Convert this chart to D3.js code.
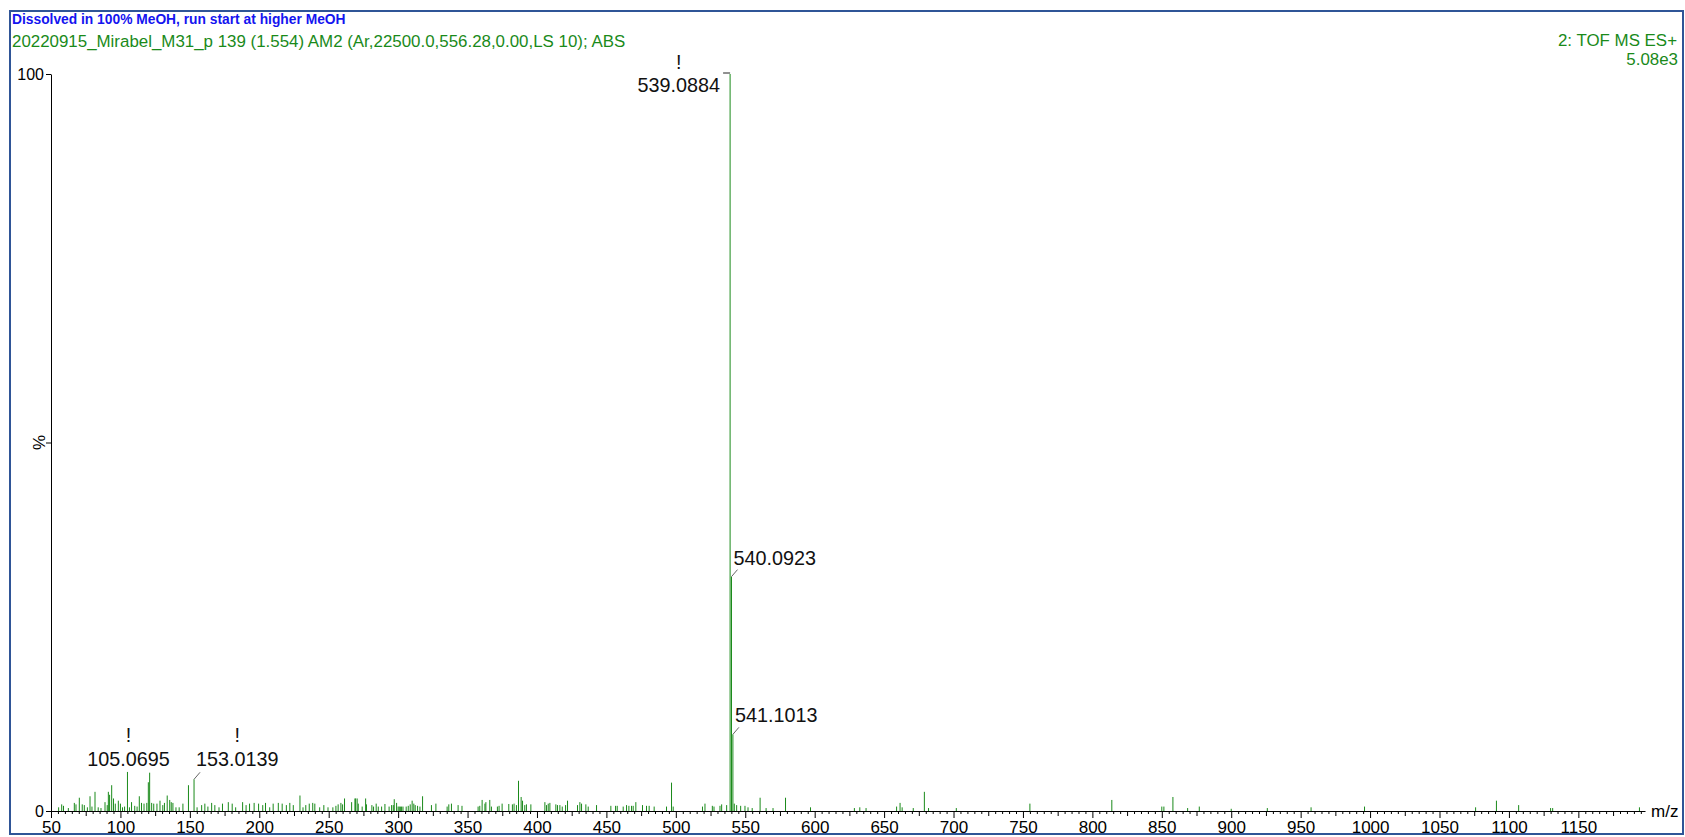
<!DOCTYPE html>
<html>
<head>
<meta charset="utf-8">
<script src="https://cdn.jsdelivr.net/npm/d3@7"></script>
<style>
body{margin:0;background:#fff}
text{font-family:"Liberation Sans",Arial,sans-serif}
</style>
</head>
<body>
<svg id="chart" width="1685" height="837"></svg>
<script>
// header texts
var sampleNote = "Dissolved in 100% MeOH, run start at higher MeOH"
var scanInfo = "20220915_Mirabel_M31_p 139 (1.554) AM2 (Ar,22500.0,556.28,0.00,LS 10); ABS"
var functionInfo = "2: TOF MS ES+"
var intensityInfo = "5.08e3"

// axes
var xDomain = [50, 1198]
var xTickLabels = [50,100,150,200,250,300,350,400,450,500,550,600,650,700,750,800,850,900,950,1000,1050,1100,1150]
var yTickValues = [0, 50, 100]
var xTitle = "m/z"
var yTitle = "%"

// labelled peaks [m/z, %]
var mainPeaks = [[539.0884,100],[540.0923,31.8],[541.1013,10.4]]
var lowPeaks = [[105.0695,5.3],[153.0139,4.3]]
var flaggedPeaks = [539.0884, 105.0695, 153.0139]

// remaining centroid sticks [m/z, %]
var noisePeaks = [
 [55.5,0.5],[57.7,0.9],[59.0,0.7],[62.5,0.4],[66.8,1.1],[68.0,0.9],[70.4,1.8],[72.5,0.9],[74.0,0.8],[76.2,0.5],
 [78.1,2.0],[79.5,0.6],[81.7,2.6],[84.0,0.5],[86.0,0.4],[88.9,1.2],[90.5,0.8],[91.3,2.6],[92.2,2.2],[93.7,3.5],
 [95.0,1.7],[96.3,1.0],[98.5,1.4],[100.0,1.0],[101.5,0.5],[103.0,0.6],[106.5,0.5],[108.0,1.2],[110.3,0.7],[112.0,0.6],
 [113.6,2.0],[115.2,1.1],[117.0,1.0],[119.0,1.1],[120.1,3.9],[121.05,5.2],[122.5,1.1],[124.0,1.0],[126.3,1.0],[128.5,1.4],
 [130.5,0.8],[131.7,1.1],[133.7,2.1],[135.5,1.5],[136.6,1.2],[137.8,1.1],[140.0,0.5],[142.3,0.5],[145.0,1.0],[149.0,3.5],
 [155.2,0.5],[158.5,0.8],[160.8,1.0],[163.0,0.6],[165.7,1.1],[168.0,0.8],[171.0,0.5],[173.5,1.0],[177.7,1.2],[180.5,1.0],
 [183.0,0.5],[188.0,1.2],[190.5,0.8],[193.0,1.0],[196.3,1.1],[199.5,1.0],[202.5,0.8],[204.5,1.1],[207.5,0.5],[210.0,1.0],
 [213.7,1.1],[216.5,1.0],[219.5,0.8],[222.0,1.1],[224.5,0.8],[229.3,2.1],[231.5,0.5],[233.5,0.8],[236.0,1.0],[238.5,1.1],
 [240.0,1.0],[243.5,0.5],[246.5,0.8],[249.5,0.5],[253.0,0.5],
 [255.2,0.7],[256.8,0.9],[258.8,1.1],[260.0,0.9],[261.4,1.7],[266.5,1.2],[268.9,1.7],[269.4,1.7],[270.5,1.7],[271.3,1.0],
 [274.1,0.6],[276.6,1.7],[277.2,0.9],[281.1,0.8],[282.3,0.6],[284.2,1.0],[285.7,0.6],[288.1,0.6],[290.5,0.95],[293.5,0.6],
 [295.3,0.8],[296.5,0.8],[297.2,1.6],[298.9,1.1],[300.0,0.6],[300.8,0.6],[301.6,0.6],[302.5,0.6],[303.5,0.6],[305.8,0.6],
 [307.3,0.7],[308.7,0.9],[310.1,1.4],[311.3,1.0],[312.3,0.8],[314.0,0.7],[315.7,0.6],[317.6,2.0],[324.0,0.8],[327.2,1.0],
 [335.3,0.6],[336.5,0.9],[338.4,1.0],[343.2,0.8],[346.0,0.7],[357.6,0.6],[358.8,0.7],[360.5,1.5],[362.5,1.0],[363.2,1.2],
 [366.0,1.5],[367.2,0.6],[371.5,0.6],[372.7,0.7],[374.9,1.0],[379.7,0.95],[382.3,0.9],[383.5,1.0],[385.2,0.8],[386.7,4.1],
 [388.6,1.9],[389.6,1.4],[391.2,0.8],[392.4,0.9],[395.6,0.9],[405.7,1.2],[406.9,0.8],[408.1,1.0],[409.3,1.1],[413.6,0.9],
 [414.8,0.8],[416.5,0.8],[418.2,0.6],[420.6,0.8],[422.0,1.4],[429.2,0.8],[430.9,1.2],[432.1,1.0],[435.2,0.9],[436.9,0.6],
 [442.9,0.8],[453.2,0.7],[456.6,0.7],[457.8,0.7],[462.1,0.6],[464.5,0.8],[466.2,0.7],[468.1,0.7],[469.3,0.7],[471.2,1.2],
 [476.0,0.8],[478.9,0.7],[480.8,0.7],[484.4,0.6],[493.3,0.6],[496.9,3.85],[498.1,0.6],[519.2,0.6],[521.0,1.0],[526.3,0.7],
 [527.5,0.6],[531.8,0.7],[533.0,0.9],[536.6,0.8],
 [542.1,1.0],[543.8,0.8],[546.7,0.7],[549.8,0.7],[552.0,0.5],[555.0,0.4],[560.7,1.8],[565.0,0.4],[570.0,0.4],[579.0,1.8],
 [597.0,0.5],[628.6,0.4],[632.5,0.5],[637.0,0.4],[659.0,0.6],[661.5,1.1],[663.0,0.5],[671.0,0.4],[679.0,2.6],[682.0,0.4],
 [702.0,0.4],[755.0,1.0],[814.0,1.5],[850.0,0.6],[851.5,0.6],[858.0,1.9],[868.6,0.4],[877.0,0.6],[900.0,0.3],[926.0,0.4],
 [957.5,0.5],[996.0,0.6],[1076.0,0.5],[1091.0,1.4],[1107.0,0.8],[1130.0,0.4],[1131.5,0.4],[1194.0,0.5]
]

var svg = d3.select("#chart")
var green = "#1a8a1a"

svg.append("rect")
    .attr("x",10).attr("y",11).attr("width",1673).attr("height",823)
    .attr("fill","none").attr("stroke","#2f5597").attr("stroke-width",2)

var x = d3.scaleLinear().domain(xDomain).range([51,1645])
var y = d3.scaleLinear().domain([0,100]).range([811,74])

// sticks
var allPeaks = noisePeaks.concat(lowPeaks).concat(mainPeaks)
svg.selectAll("line.stick")
    .data(allPeaks)
    .enter()
    .append("line")
    .attr("class","stick")
    .attr("x1",function(d){return x(d[0])})
    .attr("x2",function(d){return x(d[0])})
    .attr("y1",y(0))
    .attr("y2",function(d){return y(d[1])})
    .attr("stroke",green)
    .attr("stroke-width",1)

// x axis: minor every 5, medium at 25, major at 50
var minorVals = d3.range(55,1200,5).filter(function(v){return v%25!=0})
var midVals = d3.range(75,1200,50)
var minorAxis = d3.axisBottom(x).tickValues(minorVals).tickSize(3).tickSizeOuter(0).tickFormat("")
var midAxis = d3.axisBottom(x).tickValues(midVals).tickSize(5).tickSizeOuter(0).tickFormat("")
var majorAxis = d3.axisBottom(x).tickValues(xTickLabels).tickSize(7).tickSizeOuter(0).tickPadding(3)
    .tickFormat(d3.format("d"))

var gMinor = svg.append("g").attr("transform","translate(0,"+y(0)+")").call(minorAxis)
gMinor.select(".domain").remove()
var gMid = svg.append("g").attr("transform","translate(0,"+y(0)+")").call(midAxis)
gMid.select(".domain").remove()
var gx = svg.append("g").attr("transform","translate(0,"+y(0)+")").call(majorAxis)
gx.selectAll("text").attr("font-size","17px").attr("font-family","'Liberation Sans',Arial,sans-serif").attr("fill","#000")

var yAxis = d3.axisLeft(y).tickValues(yTickValues).tickSize(5).tickSizeOuter(0).tickPadding(2)
    .tickFormat(function(d){return d==50 ? "" : d})
var gy = svg.append("g").attr("transform","translate(51,0)").call(yAxis)
gy.selectAll("text").attr("font-size","16px").attr("font-family","'Liberation Sans',Arial,sans-serif").attr("fill","#000")

svg.append("text").text(xTitle).attr("x",1651).attr("y",817).attr("font-size","17px")
svg.append("text").text(yTitle)
    .attr("transform","translate(45,"+y(50)+") rotate(-90)")
    .attr("text-anchor","middle").attr("font-size","17px")

// headers
svg.append("text").text(sampleNote).attr("x",12).attr("y",24)
    .attr("fill","#1414f0").attr("font-weight","bold").attr("font-size","13.8px")
svg.append("text").text(scanInfo).attr("x",12).attr("y",47)
    .attr("fill",green).attr("font-size","16.9px")
svg.append("text").text(functionInfo).attr("x",1677).attr("y",46)
    .attr("fill",green).attr("font-size","16.9px").attr("text-anchor","end")
svg.append("text").text(intensityInfo).attr("x",1678).attr("y",65)
    .attr("fill",green).attr("font-size","16.9px").attr("text-anchor","end")

// peak labels
var fmt = d3.format(".4f")
var labelled = mainPeaks.concat(lowPeaks)
labelled.forEach(function(p){
    var px = x(p[0]), py = y(p[1])
    var t = svg.append("text").text(fmt(p[0])).attr("font-size","19.8px").attr("fill","#111")
    var cx, ty
    if(p[1]==100){
        // base peak: label to the left with short flat leader
        t.attr("x",px-10).attr("y",py+18).attr("text-anchor","end")
        svg.append("line").attr("x1",px-7).attr("x2",px).attr("y1",py-1).attr("y2",py-1)
            .attr("stroke","#222").attr("stroke-width",1)
        cx = px-10-t.node().getComputedTextLength()/2
        ty = py-5
    } else if(p[0]<110){
        t.attr("x",px+1).attr("y",py-6).attr("text-anchor","middle")
        cx = px+1
        ty = py-30
    } else {
        // slanted leader up to the right
        var lift = p[0]>500 ? 12 : 13
        t.attr("x",px+2).attr("y",py-lift)
        svg.append("line").attr("x1",px).attr("y1",py).attr("x2",px+6).attr("y2",py-7)
            .attr("stroke","#666").attr("stroke-width",1)
        cx = px+2+t.node().getComputedTextLength()/2
        ty = py-37
    }
    if(flaggedPeaks.indexOf(p[0])>=0){
        svg.append("text").text("!").attr("x",cx).attr("y",ty)
            .attr("text-anchor","middle").attr("font-size","19.8px").attr("fill","#111")
    }
})
</script>
</body>
</html>
